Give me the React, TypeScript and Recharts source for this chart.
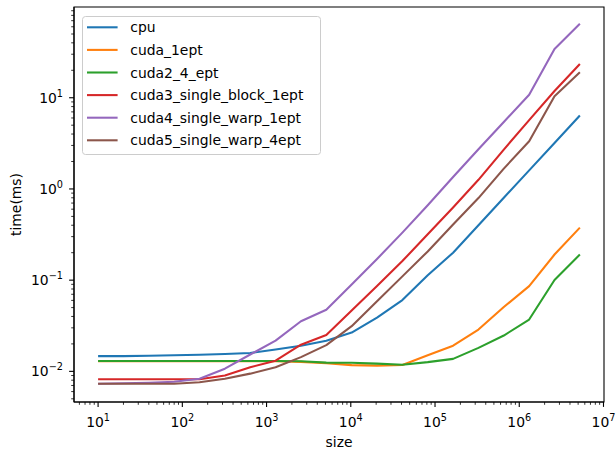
import React from 'react';
import { LineChart, Line, XAxis, YAxis, Legend, ReferenceArea } from 'recharts';

const sizes = [10, 20, 40, 80, 160, 320, 640, 1280, 2560, 5120, 10240, 20480, 40960, 81920, 163840, 327680, 655360, 1310720, 2621440, 5242880];

const cpu = [0.0147, 0.0147, 0.0148, 0.015, 0.0152, 0.0155, 0.0159, 0.0174, 0.0191, 0.0217, 0.0266, 0.0389, 0.0605, 0.113, 0.2, 0.4, 0.8, 1.6, 3.19, 6.4];
const cuda1 = [0.0129, 0.0129, 0.0129, 0.0129, 0.0129, 0.0129, 0.0129, 0.0129, 0.0127, 0.0123, 0.0117, 0.01156, 0.01175, 0.015, 0.0191, 0.0287, 0.0507, 0.0859, 0.191, 0.377];
const cuda2 = [0.013, 0.013, 0.013, 0.013, 0.013, 0.013, 0.013, 0.013, 0.0129, 0.01247, 0.0124, 0.01216, 0.0118, 0.01262, 0.01371, 0.0181, 0.0247, 0.037, 0.1005, 0.191];
const cuda3 = [0.0082, 0.0082, 0.0082, 0.0082, 0.0082, 0.009, 0.0111, 0.0131, 0.0196, 0.025, 0.0465, 0.0861, 0.162, 0.318, 0.626, 1.26, 2.7, 5.69, 11.85, 23.4];
const cuda4 = [0.0073, 0.0074, 0.0075, 0.0077, 0.0083, 0.0107, 0.0153, 0.0217, 0.0354, 0.0473, 0.0897, 0.1706, 0.332, 0.662, 1.35, 2.72, 5.43, 10.8, 34.3, 64.6];
const cuda5 = [0.0073, 0.0073, 0.0073, 0.0073, 0.0076, 0.0083, 0.00944, 0.01107, 0.01432, 0.0194, 0.0313, 0.0586, 0.11, 0.2065, 0.407, 0.794, 1.67, 3.34, 10.4, 19.0];

const seriesKeys = ['cpu', 'cuda1', 'cuda2', 'cuda3', 'cuda4', 'cuda5'];
const seriesNames = ['cpu', 'cuda_1ept', 'cuda2_4_ept', 'cuda3_single_block_1ept', 'cuda4_single_warp_1ept', 'cuda5_single_warp_4ept'];
const seriesColors = ['#1f77b4', '#ff7f0e', '#2ca02c', '#d62728', '#9467bd', '#8c564b'];

const xMajor = [10, 100, 1000, 10000, 100000, 1000000, 10000000];
const yMajor = [0.01, 0.1, 1, 10];
const minorSteps = [2, 3, 4, 5, 6, 7, 8, 9];

const xDomain = [5.176, 1.014e7];
const yDomain = [0.004613, 98.86];

const data = sizes.map((size, i) => ({
  size,
  cpu: cpu[i],
  cuda1: cuda1[i],
  cuda2: cuda2[i],
  cuda3: cuda3[i],
  cuda4: cuda4[i],
  cuda5: cuda5[i],
}));

// minor ticks at 2..9 x each decade, kept inside the visible range
const withMinor = (major: number[], domain: number[]) => {
  const out: number[] = [];
  [major[0] / 10, ...major].forEach((d) => {
    minorSteps.forEach((s) => out.push(d * s));
  });
  return [...major, ...out].filter((v) => v >= domain[0] && v <= domain[1]).sort((a, b) => a - b);
};

const xTicks = withMinor(xMajor, xDomain);
const yTicks = withMinor(yMajor, yDomain);

const FONT = 'DejaVu Sans';

const expLabel = (v: number) => {
  const e = Math.round(Math.log10(v));
  return e < 0 ? `\u2212${-e}` : `${e}`;
};

const XTick = (props: any) => {
  const { x, y, payload } = props;
  const major = xMajor.includes(payload.value);
  return (
    <g>
      <line x1={x} x2={x} y1={y} y2={y + (major ? 4.9 : 2.8)} stroke="#000" strokeWidth={major ? 1.1 : 0.8} />
      {major && (
        <text x={x} y={y + 25} textAnchor="middle" fontSize={13.9} fontFamily={FONT} fill="#000">
          10<tspan dy={-6} fontSize={9.7}>{expLabel(payload.value)}</tspan>
        </text>
      )}
    </g>
  );
};

const YTick = (props: any) => {
  const { x, y, payload } = props;
  const major = yMajor.includes(payload.value);
  return (
    <g>
      <line x1={x} x2={x - (major ? 4.9 : 2.8)} y1={y} y2={y} stroke="#000" strokeWidth={major ? 1.1 : 0.8} />
      {major && (
        <text x={x - 11} y={y + 5} textAnchor="end" fontSize={13.9} fontFamily={FONT} fill="#000">
          10<tspan dy={-6} fontSize={9.7}>{expLabel(payload.value)}</tspan>
        </text>
      )}
    </g>
  );
};

const LegendBox = () => (
  <svg width={240} height={140}>
    <rect x={0.5} y={0.5} width={238} height={138} rx={3} fill="#fff" fillOpacity={0.8} stroke="#cccccc" />
    {seriesNames.map((name, i) => (
      <g key={name}>
        <line x1={5} x2={35.6} y1={11.3 + 22.6 * i} y2={11.3 + 22.6 * i} stroke={seriesColors[i]} strokeWidth={2.08} />
        <text x={48.3} y={16.3 + 22.6 * i} fontSize={13.9} fontFamily={FONT} fill="#000">{name}</text>
      </g>
    ))}
  </svg>
);

export default function App() {
  return (
    <div style={{ position: 'absolute', left: 0, top: 0, width: 616, height: 452, background: '#fff' }}>
      <LineChart width={616} height={452} data={data} margin={{ top: 7, right: 12, bottom: 0, left: 0 }}>
        <XAxis
          dataKey="size"
          type="number"
          scale="log"
          domain={xDomain}
          allowDataOverflow
          ticks={xTicks}
          interval={0}
          height={50}
          tickSize={0}
          tickMargin={0}
          tickLine={false}
          tick={<XTick />}
          axisLine={{ stroke: '#000', strokeWidth: 1.1 }}
          label={{ value: 'size', position: 'insideBottom', offset: 5, fontSize: 13.9, fontFamily: FONT, fill: '#000' }}
        />
        <YAxis
          type="number"
          scale="log"
          domain={yDomain}
          allowDataOverflow
          ticks={yTicks}
          interval={0}
          width={74}
          tickSize={0}
          tickMargin={0}
          tickLine={false}
          tick={<YTick />}
          axisLine={{ stroke: '#000', strokeWidth: 1.1 }}
          label={{ value: 'time(ms)', angle: -90, position: 'insideLeft', offset: 16, fontSize: 13.9, fontFamily: FONT, fill: '#000', style: { textAnchor: 'middle' } }}
        />
        <Legend
          layout="horizontal"
          verticalAlign="middle"
          align="center"
          content={() => <LegendBox />}
          wrapperStyle={{ left: 81.7, top: 15.7, width: 240, height: 140 }}
        />
        {seriesKeys.map((key, i) => (
          <Line
            key={key}
            dataKey={key}
            name={seriesNames[i]}
            stroke={seriesColors[i]}
            strokeWidth={2.08}
            strokeLinejoin="round"
            dot={false}
            activeDot={false}
            isAnimationActive={false}
          />
        ))}
        {/* plot frame: top and right spines */}
        <ReferenceArea
          x1={xDomain[0]}
          x2={xDomain[1]}
          y1={yDomain[0]}
          y2={yDomain[1]}
          fill="none"
          stroke="#000"
          strokeWidth={1.1}
          ifOverflow="visible"
        />
      </LineChart>
    </div>
  );
}
